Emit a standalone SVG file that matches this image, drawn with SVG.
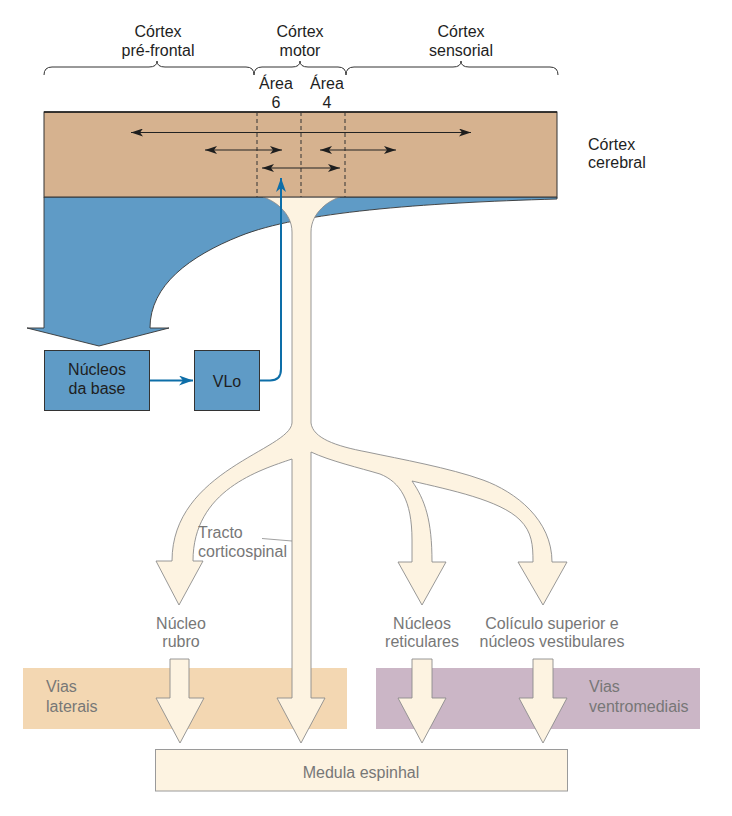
<svg xmlns="http://www.w3.org/2000/svg" width="732" height="816" viewBox="0 0 732 816">
<style>
text{font-family:"Liberation Sans",Arial,Helvetica,sans-serif;font-size:16px}
.dk{fill:#1e1e1e}
.gy{fill:#777777}
.mid{text-anchor:middle}
.brace{fill:none;stroke:#333;stroke-width:1}
.dash{stroke:#333;stroke-width:1;stroke-dasharray:4,3}
.cream{fill:#fdf3e1;stroke:#8c8c8c;stroke-width:0.9}
.blk{stroke:#222;stroke-width:1;fill:none;marker-start:url(#ah);marker-end:url(#ah)}
.blue{stroke:#0d6ea8;stroke-width:2;fill:none;marker-end:url(#bh)}
</style>
<defs>
<marker id="ah" viewBox="0 0 12 8" refX="12" refY="4" markerWidth="12" markerHeight="8" markerUnits="userSpaceOnUse" orient="auto-start-reverse">
<path d="M0,0 L12,4 L0,8 L3,4 Z" fill="#1e1e1e"/>
</marker>
<marker id="bh" viewBox="0 0 14 10" refX="14" refY="5" markerWidth="14" markerHeight="10" markerUnits="userSpaceOnUse" orient="auto">
<path d="M0,0 L14,5 L0,10 L4,5 Z" fill="#0d6ea8"/>
</marker>
</defs>
<rect width="732" height="816" fill="#ffffff"/>

<g id="labels-top">
<text class="dk mid" x="158" y="37">Córtex</text>
<text class="dk mid" x="158" y="55.5">pré-frontal</text>
<text class="dk mid" x="300" y="37">Córtex</text>
<text class="dk mid" x="300" y="55.5">motor</text>
<text class="dk mid" x="461" y="37">Córtex</text>
<text class="dk mid" x="461" y="55.5">sensorial</text>
<path class="brace" d="M44,75 Q44,67 52,67 H149 Q157,67 157,61 Q157,67 165,67 H246 Q254,67 254,75"/>
<path class="brace" d="M254,75 Q254,67 262,67 H292 Q300,67 300,61 Q300,67 308,67 H338 Q346,67 346,75"/>
<path class="brace" d="M346,75 Q346,67 354,67 H453 Q461,67 461,61 Q461,67 469,67 H550 Q558,67 558,75"/>
<text class="dk mid" x="276" y="89">Área</text>
<text class="dk mid" x="276" y="107.5">6</text>
<text class="dk mid" x="327" y="89">Área</text>
<text class="dk mid" x="327" y="107.5">4</text>
</g>

<g id="vias-laterais">
<rect x="23" y="668" width="324" height="61" fill="#f3d7b2"/>
<text class="gy" x="46" y="692">Vias</text>
<text class="gy" x="46" y="712">laterais</text>
</g>
<g id="vias-ventromediais">
<rect x="376" y="668" width="324" height="61" fill="#cbb6c6"/>
<text class="gy" x="589" y="692">Vias</text>
<text class="gy" x="589" y="712">ventromediais</text>
</g>
<g id="medula">
<rect x="155.5" y="749.5" width="412" height="41.5" fill="#fdf3e1" stroke="#9a9a9a" stroke-width="1"/>
<text class="gy mid" x="361" y="778">Medula espinhal</text>
</g>

<g id="basal-sheet">
<path d="M44,197 H557 V199 C420,203 300,212 240,236 C190,256 150,285 150,328 H169 L99,346 L27,328 H44 Z" fill="#5f9bc6" stroke="#333" stroke-width="0.9"/>
</g>

<g id="tract">
<path class="cream" d="M263,197 H340 C330,200 311,212 311,232 V423 C313,438 335,446 367,452 C400,459 450,468 483,480 C516,492 552,520 552,562 H567 L543,605 L518,562 H533 C533,545 532,532 520,520 C500,500 450,490 412,481 C425,500 432,520 432,562 H446 L422,605 L398,562 H412 V540 C412,500 400,482 380,474 C360,468 330,461 311,452 V698 H325 L301,743 L277,698 H292 V459 C260,470 193,490 193,561 H203 L179,605 L156,561 H172 C172,470 290,450 292,423 V232 C292,212 273,200 263,197 Z"/>
</g>

<g id="cortex">
<rect x="44" y="112" width="513" height="85" fill="#d6b28f" stroke="#333" stroke-width="1"/>
<line x1="44" y1="112" x2="557" y2="112" stroke="#1a1a1a" stroke-width="1.5"/>
<line class="dash" x1="257" y1="112" x2="257" y2="197"/>
<line class="dash" x1="301" y1="112" x2="301" y2="197"/>
<line class="dash" x1="345" y1="112" x2="345" y2="197"/>
<text class="dk" x="588" y="150">Córtex</text>
<text class="dk" x="588" y="168">cerebral</text>
</g>

<g id="nucleos-base">
<rect x="44.5" y="350.5" width="105" height="60" fill="#5f9bc6" stroke="#333" stroke-width="1"/>
<text class="dk mid" x="97" y="375">Núcleos</text>
<text class="dk mid" x="97" y="394">da base</text>
</g>
<g id="vlo">
<rect x="194.5" y="350.5" width="65" height="60" fill="#5f9bc6" stroke="#333" stroke-width="1"/>
<text class="dk mid" x="227" y="387">VLo</text>
</g>

<g id="labels-mid">
<text class="gy" x="198" y="538">Tracto</text>
<text class="gy" x="198" y="556.5">corticospinal</text>
<line x1="262" y1="538.5" x2="292" y2="541" stroke="#888" stroke-width="0.8"/>
<text class="gy mid" x="181" y="628.5">Núcleo</text>
<text class="gy mid" x="181" y="647">rubro</text>
<text class="gy mid" x="422" y="628.5">Núcleos</text>
<text class="gy mid" x="422" y="647">reticulares</text>
<text class="gy mid" x="552" y="628.5">Colículo superior e</text>
<text class="gy mid" x="552" y="647">núcleos vestibulares</text>
</g>

<g id="connectors">
<line class="blk" x1="131" y1="132.5" x2="471" y2="132.5"/>
<line class="blk" x1="205" y1="150" x2="282" y2="150" stroke="#444"/>
<line class="blk" x1="320" y1="150" x2="396" y2="150" stroke="#444"/>
<line class="blk" x1="262" y1="168" x2="340" y2="168"/>
<line class="blue" x1="150" y1="380.5" x2="193" y2="380.5"/>
<path class="blue" d="M260,380.5 H270 Q281,380.5 281,369 V178"/>
<path class="cream" d="M170,659 H189 V698 H204 L180,743 L156,698 H170 Z"/>
<path class="cream" d="M412,659 H432 V698 H446 L422,743 L398,698 H412 Z"/>
<path class="cream" d="M533,659 H553 V698 H567 L543,743 L519,698 H533 Z"/>
</g>
</svg>
